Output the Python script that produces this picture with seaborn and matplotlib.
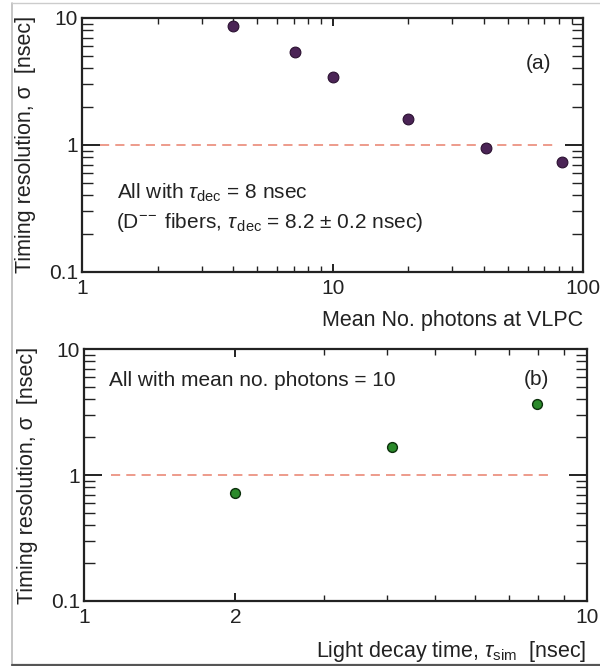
import matplotlib
matplotlib.use("Agg")
import matplotlib.pyplot as plt
import seaborn as sns
import pandas as pd
from matplotlib.ticker import LogLocator, FixedLocator, FixedFormatter, NullFormatter
from matplotlib.lines import Line2D

# ---- data ----
photons = [4, 7.1, 10, 20, 41, 82]
sigma_a = [8.6, 5.4, 3.4, 1.6, 0.95, 0.73]
decay = [2.0, 4.1, 7.95]
sigma_b = [0.72, 1.67, 3.7]
ref_level = 1.0
ref_span_a = [1.18, 76]
ref_span_b = [1.13, 8.5]

sns.set_theme(style="white")
plt.rcParams['font.family'] = ['Liberation Sans', 'DejaVu Sans']
plt.rcParams['mathtext.fontset'] = 'custom'
plt.rcParams['mathtext.rm'] = 'Liberation Sans'
plt.rcParams['mathtext.it'] = 'Liberation Sans:italic'

fig = plt.figure(figsize=(6.0, 6.66), dpi=100)
fig.patch.set_facecolor('white')

ax1 = fig.add_axes([0.137, 0.592, 0.835, 0.381])
ax2 = fig.add_axes([0.140, 0.0976, 0.838, 0.378])

df_a = pd.DataFrame({"x": photons, "y": sigma_a})
df_b = pd.DataFrame({"x": decay, "y": sigma_b})

sns.scatterplot(data=df_a, x="x", y="y", ax=ax1, color="#4b2456", edgecolor="#2a1030",
                linewidth=0.8, s=60, zorder=3)
sns.scatterplot(data=df_b, x="x", y="y", ax=ax2, color="#2a8a2a", edgecolor="#0c300c",
                linewidth=1.0, s=50, zorder=3)

ax1.hlines(ref_level, ref_span_a[0], ref_span_a[1], colors="#e8806c", linestyles=(0, (6, 4)),
           linewidth=1.1, zorder=2)
ax2.hlines(ref_level, ref_span_b[0], ref_span_b[1], colors="#e8806c", linestyles=(0, (6, 4)),
           linewidth=1.1, zorder=2)

tick_fs = 15
lab_fs = 15.5
txt_fs = 15
ink = '#222222'
for ax in (ax1, ax2):
    ax.set_xscale('log')
    ax.set_yscale('log')
    ax.set_ylim(0.1, 10)
    for sp in ax.spines.values():
        sp.set_visible(True)
        sp.set_linewidth(1.6)
        sp.set_color(ink)
    ax.yaxis.set_major_locator(FixedLocator([0.1, 1, 10]))
    ax.yaxis.set_major_formatter(FixedFormatter(['0.1', '1', '10']))
    ax.yaxis.set_minor_locator(LogLocator(base=10, subs=range(2, 10)))
    ax.yaxis.set_minor_formatter(NullFormatter())
    ax.tick_params(axis='both', which='both', direction='in', top=True, right=True,
                   left=True, bottom=True,
                   colors=ink, labelcolor=ink, labelsize=tick_fs)
    ax.tick_params(axis='y', which='major', length=13, width=1.4, pad=3)
    ax.tick_params(axis='y', which='minor', length=8, width=1.0)
    ax.tick_params(axis='x', which='major', length=6, width=1.4, pad=5)
    ax.tick_params(axis='x', which='minor', length=4, width=1.0)
    ax.set_ylabel('Timing resolution, σ  [nsec]', fontsize=lab_fs, color=ink)
    ax.yaxis.set_label_coords(-0.092, 0.5)
    ax.set_facecolor('white')

ax1.set_xlim(1, 100)
ax1.xaxis.set_major_locator(FixedLocator([1, 10, 100]))
ax1.xaxis.set_major_formatter(FixedFormatter(['1', '10', '100']))
ax1.xaxis.set_minor_locator(LogLocator(base=10, subs=range(2, 10)))
ax1.xaxis.set_minor_formatter(NullFormatter())
ax1.set_xlabel('Mean No. photons at VLPC', fontsize=lab_fs, color=ink, loc='right', labelpad=9)

ax2.set_xlim(1, 10)
ax2.xaxis.set_major_locator(FixedLocator([1, 2, 10]))
ax2.xaxis.set_major_formatter(FixedFormatter(['1', '2', '10']))
ax2.xaxis.set_minor_locator(FixedLocator([3, 4, 5, 6, 7, 8, 9]))
ax2.xaxis.set_minor_formatter(NullFormatter())
ax2.set_xlabel(r'Light decay time, $\tau_{\mathrm{sim}}$  [nsec]', fontsize=lab_fs, color=ink,
               loc='right', labelpad=9)

ax1.text(0.07, 0.31, r'All with $\tau_{\mathrm{dec}}$ = 8 nsec', transform=ax1.transAxes,
         fontsize=txt_fs, color=ink, va='center')
ax1.text(0.068, 0.195, r'(D$^{-\!-}$ fibers, $\tau_{\,\mathrm{dec}}$ = 8.2 $\pm$ 0.2 nsec)',
         transform=ax1.transAxes, fontsize=txt_fs, color=ink, va='center')
ax1.text(0.91, 0.82, '(a)', transform=ax1.transAxes, fontsize=txt_fs, color=ink,
         ha='center', va='center')

ax2.text(0.05, 0.875, 'All with mean no. photons = 10', transform=ax2.transAxes,
         fontsize=txt_fs, color=ink, va='center')
ax2.text(0.90, 0.88, '(b)', transform=ax2.transAxes, fontsize=txt_fs, color=ink,
         ha='center', va='center')

# figure frame
fw, fh = 600.0, 666.0
fig.add_artist(Line2D([12/fw, 12/fw], [1 - 3/fh, 1 - 665/fh], transform=fig.transFigure,
                      color='#bbbbbb', linewidth=1.2))
fig.add_artist(Line2D([12/fw, 1.0], [1 - 3/fh, 1 - 3/fh], transform=fig.transFigure,
                      color='#cccccc', linewidth=1.0))
fig.add_artist(Line2D([12/fw, 1.0], [1 - 665/fh, 1 - 665/fh], transform=fig.transFigure,
                      color='#555555', linewidth=1.6))

fig.savefig('out.png', dpi=100, facecolor='white')
